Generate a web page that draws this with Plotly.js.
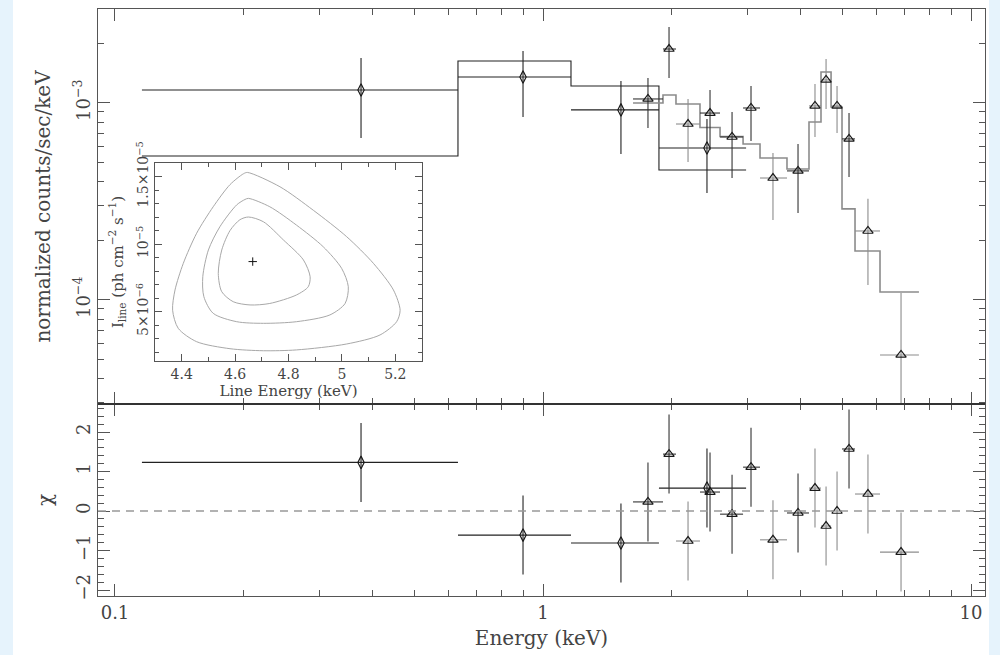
<!DOCTYPE html>
<html><head><meta charset="utf-8">
<script src="https://cdn.plot.ly/plotly-3.0.1.min.js"></script>
<style>html,body{margin:0;padding:0;background:#fff}#chart{width:1000px;height:655px}</style>
</head><body><div id="chart"></div>
<script>
// ---- Diamond data set (black) ----
const dE      = [0.3757, 0.8981, 1.521, 2.416];
const dElo    = [0.1156, 0.6329, 1.1625, 1.866];
const dEhi    = [0.6329, 1.1625, 1.866, 2.982];
const dRate   = [1.164e-3, 1.355e-3, 9.22e-4, 5.91e-4];
const dRateLo = [6.64e-4, 8.49e-4, 5.51e-4, 3.49e-4];
const dRateHi = [1.692e-3, 1.836e-3, 1.293e-3, 8.29e-4];
const dChi    = [1.23, -0.61, -0.81, 0.58];
const dModelEdges = [0.1156, 0.6329, 1.1625, 1.866, 2.982];
const dModel      = [5.38e-4, 1.633e-3, 1.220e-3, 4.57e-4];

// ---- Triangle data set A (dark error bars) ----
const aE      = [1.759, 1.970, 2.456, 2.765, 3.062, 3.943, 5.188];
const aElo    = [1.623, 1.907, 2.327, 2.592, 2.934, 3.716, 4.996];
const aEhi    = [1.907, 2.045, 2.592, 2.934, 3.214, 4.183, 5.358];
const aRate   = [1.048e-3, 1.879e-3, 8.89e-4, 6.72e-4, 9.43e-4, 4.52e-4, 6.57e-4];
const aRateLo = [7.47e-4, 1.339e-3, 5.77e-4, 4.16e-4, 6.42e-4, 2.76e-4, 4.21e-4];
const aRateHi = [1.339e-3, 2.43e-3, 1.164e-3, 9.0e-4, 1.220e-3, 6.19e-4, 8.89e-4];
const aChi    = [0.23, 1.44, 0.48, -0.08, 1.11, -0.05, 1.57];

// ---- Triangle data set B (grey error bars) ----
const bE      = [2.182, 3.446, 4.320, 4.585, 4.864, 5.744, 6.863];
const bElo    = [2.045, 3.214, 4.183, 4.462, 4.710, 5.358, 6.129];
const bEhi    = [2.327, 3.716, 4.462, 4.710, 4.996, 6.129, 7.557];
const bRate   = [7.82e-4, 4.16e-4, 9.66e-4, 1.309e-3, 9.66e-4, 2.24e-4, 5.26e-5];
const bRateLo = [5.02e-4, 2.55e-4, 6.72e-4, 9.32e-4, 7.04e-4, 1.19e-4, 1.0e-5];
const bRateHi = [1.048e-3, 5.57e-4, 1.249e-3, 1.673e-3, 1.220e-3, 3.26e-4, 1.085e-4];
const bChi    = [-0.76, -0.73, 0.58, -0.38, 0.0, 0.43, -1.04];

// ---- Model for triangle data (grey step) ----
const tModelEdges = [1.623, 1.907, 2.045, 2.327, 2.592, 2.934, 3.214, 3.716, 4.183, 4.462, 4.710, 4.996, 5.358, 6.129, 7.557];
const tModel      = [1.0e-3, 1.098e-3, 9.88e-4, 7.51e-4, 6.76e-4, 6.19e-4, 5.26e-4, 4.62e-4, 8.01e-4, 1.437e-3, 9.54e-4, 2.90e-4, 1.773e-4, 1.098e-4];

// ---- Inset confidence contours ----
const outerE = [4.646, 4.768, 4.893, 5.018, 5.118, 5.193, 5.218, 5.205, 5.143, 5.018, 4.83, 4.706, 4.581, 4.456, 4.387, 4.366, 4.375, 4.406, 4.456, 4.518, 4.581, 4.631, 4.646];
const outerI = [1.53e-5, 1.424e-5, 1.25e-5, 1.054e-5, 8.57e-6, 6.6e-6, 5.1e-6, 4.25e-6, 3.27e-6, 2.6e-6, 2.16e-6, 2.1e-6, 2.25e-6, 2.77e-6, 3.76e-6, 5.1e-6, 6.6e-6, 8.57e-6, 1.08e-5, 1.276e-5, 1.44e-5, 1.52e-5, 1.53e-5];
const midE = [4.65, 4.73, 4.83, 4.93, 4.999, 5.024, 5.012, 4.955, 4.83, 4.706, 4.606, 4.518, 4.483, 4.479, 4.5, 4.543, 4.606, 4.637, 4.65];
const midI = [1.338e-5, 1.276e-5, 1.14e-5, 9.8e-6, 8.2e-6, 6.84e-6, 5.6e-6, 4.75e-6, 4.25e-6, 4.13e-6, 4.25e-6, 4.87e-6, 6.1e-6, 7.58e-6, 9.56e-6, 1.128e-5, 1.29e-5, 1.33e-5, 1.338e-5];
const innerE = [4.65, 4.706, 4.781, 4.856, 4.881, 4.874, 4.83, 4.73, 4.656, 4.593, 4.55, 4.537, 4.55, 4.581, 4.618, 4.65];
const innerI = [1.2e-5, 1.165e-5, 1.03e-5, 8.82e-6, 7.58e-6, 6.84e-6, 6.23e-6, 5.6e-6, 5.49e-6, 5.73e-6, 6.47e-6, 7.83e-6, 9.56e-6, 1.1e-5, 1.18e-5, 1.2e-5];
const bestE = [4.666];
const bestI = [8.7e-6];

// ---- Tick labels ----
const xTickVals = [0.1, 1, 10];
const xTickText = ['0.1', '1', '10'];
const yTickVals = [1e-4, 1e-3];
const yTickText = ['10<sup>−4</sup>', '10<sup>−3</sup>'];
const chiTickVals = [-2, -1, 0, 1, 2];
const chiTickText = ['−2', '−1', '0', '1', '2'];
const insetXTicks = [4.4, 4.6, 4.8, 5.0, 5.2];
const insetXText = ['4.4', '4.6', '4.8', '5', '5.2'];
const insetYTicks = [5e-6, 1e-5, 1.5e-5];
const insetYText = ['5×10<sup>−6</sup>', '10<sup>−5</sup>', '1.5×10<sup>−5</sup>'];

// minor tick positions (axis decoration)
const minorX = [], minorY = [], minorInsetY = [], minorInsetX = [];
[0.1, 1].forEach(d => { for (let k = 2; k <= 9; k++) minorX.push(d * k); });
[1e-5, 1e-4, 1e-3].forEach(d => { for (let k = 2; k <= 9; k++) minorY.push(d * k); });
for (let k = 1; k <= 16; k++) minorInsetY.push(k * 1e-6);
for (let k = 0; k <= 10; k++) minorInsetX.push(4.3 + k * 0.1);

const sub = (a, b) => a.map((v, i) => v - b[i]);
const stepY = (vals) => vals.concat([vals[vals.length - 1]]);

const DARK = '#222', GREY = '#8c8c8c';

function dataTrace(E, Elo, Ehi, R, Rlo, Rhi, sym, errColor, size) {
  return {
    x: E, y: R, xaxis: 'x2', yaxis: 'y', type: 'scatter', mode: 'markers',
    marker: {symbol: sym, size: size, color: '#1a1a1a', line: {width: 1.2, color: '#1a1a1a'}},
    error_x: {type: 'data', symmetric: false, array: sub(Ehi, E), arrayminus: sub(E, Elo), width: 0, thickness: 1.1, color: errColor},
    error_y: {type: 'data', symmetric: false, array: sub(Rhi, R), arrayminus: sub(R, Rlo), width: 0, thickness: 1.1, color: errColor},
    hoverinfo: 'skip'
  };
}
function resTrace(E, Elo, Ehi, C, sym, errColor, size) {
  return {
    x: E, y: C, xaxis: 'x', yaxis: 'y2', type: 'scatter', mode: 'markers',
    marker: {symbol: sym, size: size, color: '#1a1a1a', line: {width: 1.2, color: '#1a1a1a'}},
    error_x: {type: 'data', symmetric: false, array: sub(Ehi, E), arrayminus: sub(E, Elo), width: 0, thickness: 1.1, color: errColor},
    error_y: {type: 'constant', value: 1, width: 0, thickness: 1.1, color: errColor},
    hoverinfo: 'skip'
  };
}
function contour(E, I) {
  return {x: E, y: I, xaxis: 'x3', yaxis: 'y3', type: 'scatter', mode: 'lines',
          line: {color: '#a8a8a8', width: 1, shape: 'spline', smoothing: 0.8}, hoverinfo: 'skip'};
}

const traces = [
  {x: dModelEdges, y: stepY(dModel), xaxis: 'x2', yaxis: 'y', type: 'scatter', mode: 'lines',
   line: {color: DARK, width: 1.1, shape: 'hv'}, hoverinfo: 'skip'},
  {x: tModelEdges, y: stepY(tModel), xaxis: 'x2', yaxis: 'y', type: 'scatter', mode: 'lines',
   line: {color: GREY, width: 1.6, shape: 'hv'}, hoverinfo: 'skip'},
  dataTrace(dE, dElo, dEhi, dRate, dRateLo, dRateHi, 'diamond-tall-open', DARK, 9),
  dataTrace(aE, aElo, aEhi, aRate, aRateLo, aRateHi, 'triangle-up-open', '#333', 9),
  dataTrace(bE, bElo, bEhi, bRate, bRateLo, bRateHi, 'triangle-up-open', GREY, 9),
  resTrace(dE, dElo, dEhi, dChi, 'diamond-tall-open', DARK, 9),
  resTrace(aE, aElo, aEhi, aChi, 'triangle-up-open', '#333', 9),
  resTrace(bE, bElo, bEhi, bChi, 'triangle-up-open', GREY, 9),
  contour(outerE, outerI),
  contour(midE, midI),
  contour(innerE, innerI),
  {x: bestE, y: bestI, xaxis: 'x3', yaxis: 'y3', type: 'scatter', mode: 'markers',
   marker: {symbol: 'cross-thin', size: 6, line: {width: 1, color: '#111'}}, hoverinfo: 'skip'}
];

const AX = '#555';
const baseAxis = {showgrid: false, zeroline: false, showline: true, linecolor: AX, linewidth: 1,
                  ticks: 'inside', tickcolor: AX, tickwidth: 1, mirror: 'allticks'};
const L = 98, R = 985, T = 9, B = 596;
const px = X => (X - L) / (R - L);
const py = Y => (B - Y) / (B - T);
const split = py(404);

const layout = {
  width: 1000, height: 655,
  margin: {l: L, r: 1000 - R, t: T, b: 655 - B, pad: 0},
  paper_bgcolor: '#ffffff', plot_bgcolor: 'rgba(0,0,0,0)', showlegend: false,
  font: {family: 'DejaVu Serif, Liberation Serif, serif', color: '#444', size: 18},
  xaxis: Object.assign({}, baseAxis, {
    type: 'log', range: [-1.0397, 1.0327], domain: [0, 1], anchor: 'y2',
    tickmode: 'array', tickvals: xTickVals, ticktext: xTickText, ticklen: 12,
    minor: {tickmode: 'array', tickvals: minorX, ticks: 'inside', ticklen: 6, tickcolor: AX},
    tickfont: {size: 18},
    title: {text: 'Energy (keV)', font: {size: 20}, standoff: 9}
  }),
  xaxis2: Object.assign({}, baseAxis, {
    type: 'log', range: [-1.0397, 1.0327], domain: [0, 1], anchor: 'y', showticklabels: false,
    tickmode: 'array', tickvals: xTickVals, ticklen: 12,
    minor: {tickmode: 'array', tickvals: minorX, ticks: 'inside', ticklen: 6, tickcolor: AX}
  }),
  yaxis: Object.assign({}, baseAxis, {
    type: 'log', range: [-4.528, -2.523], domain: [split, 1], anchor: 'x2',
    tickmode: 'array', tickvals: yTickVals, ticktext: yTickText, ticklen: 12, tickangle: -90,
    minor: {tickmode: 'array', tickvals: minorY, ticks: 'inside', ticklen: 6, tickcolor: AX},
    tickfont: {size: 18},
    title: {text: 'normalized counts/sec/keV', font: {size: 20}, standoff: 14}
  }),
  yaxis2: Object.assign({}, baseAxis, {
    type: 'linear', range: [-2.152, 2.709], domain: [0, split], anchor: 'x',
    tickmode: 'array', tickvals: chiTickVals, ticktext: chiTickText, ticklen: 12, tickangle: -90,
    minor: {tickmode: 'linear', tick0: 0, dtick: 0.2, ticks: 'inside', ticklen: 6, tickcolor: AX},
    tickfont: {size: 18},
    title: {text: 'χ', font: {size: 20}, standoff: 14}
  }),
  xaxis3: Object.assign({}, baseAxis, {
    type: 'linear', range: [4.3, 5.3], domain: [px(155), px(422)], anchor: 'y3',
    tickmode: 'array', tickvals: insetXTicks, ticktext: insetXText, ticklen: 7,
    minor: {tickmode: 'array', tickvals: minorInsetX, ticks: 'inside', ticklen: 4, tickcolor: AX},
    tickfont: {size: 14},
    title: {text: 'Line Energy (keV)', font: {size: 15}, standoff: 2}
  }),
  yaxis3: Object.assign({}, baseAxis, {
    type: 'linear', range: [1.34e-6, 1.6e-5], domain: [py(361), py(163)], anchor: 'x3',
    tickmode: 'array', tickvals: insetYTicks, ticktext: insetYText, ticklen: 7, tickangle: -90,
    minor: {tickmode: 'array', tickvals: minorInsetY, ticks: 'inside', ticklen: 4, tickcolor: AX},
    tickfont: {size: 14},
    title: {text: 'I<sub>line</sub> (ph cm<sup>−2</sup> s<sup>−1</sup>)', font: {size: 15}, standoff: 6}
  }),
  shapes: [
    {type: 'rect', xref: 'paper', yref: 'paper', x0: px(0), x1: px(13), y0: py(655), y1: py(0),
     fillcolor: '#e6f3fc', line: {width: 0}, layer: 'below'},
    {type: 'rect', xref: 'paper', yref: 'paper', x0: px(989), x1: px(1000), y0: py(655), y1: py(0),
     fillcolor: '#e6f3fc', line: {width: 0}, layer: 'below'},
    {type: 'line', xref: 'paper', yref: 'paper', x0: 0, x1: 1, y0: split, y1: split,
     line: {color: '#333', width: 2}},
    {type: 'line', xref: 'paper', yref: 'y2', x0: 0, x1: 1, y0: 0, y1: 0,
     line: {color: '#999', width: 1.3, dash: '8px,6px'}}
  ]
};

Plotly.newPlot('chart', traces, layout, {staticPlot: true, displayModeBar: false});
</script>
</body></html>
